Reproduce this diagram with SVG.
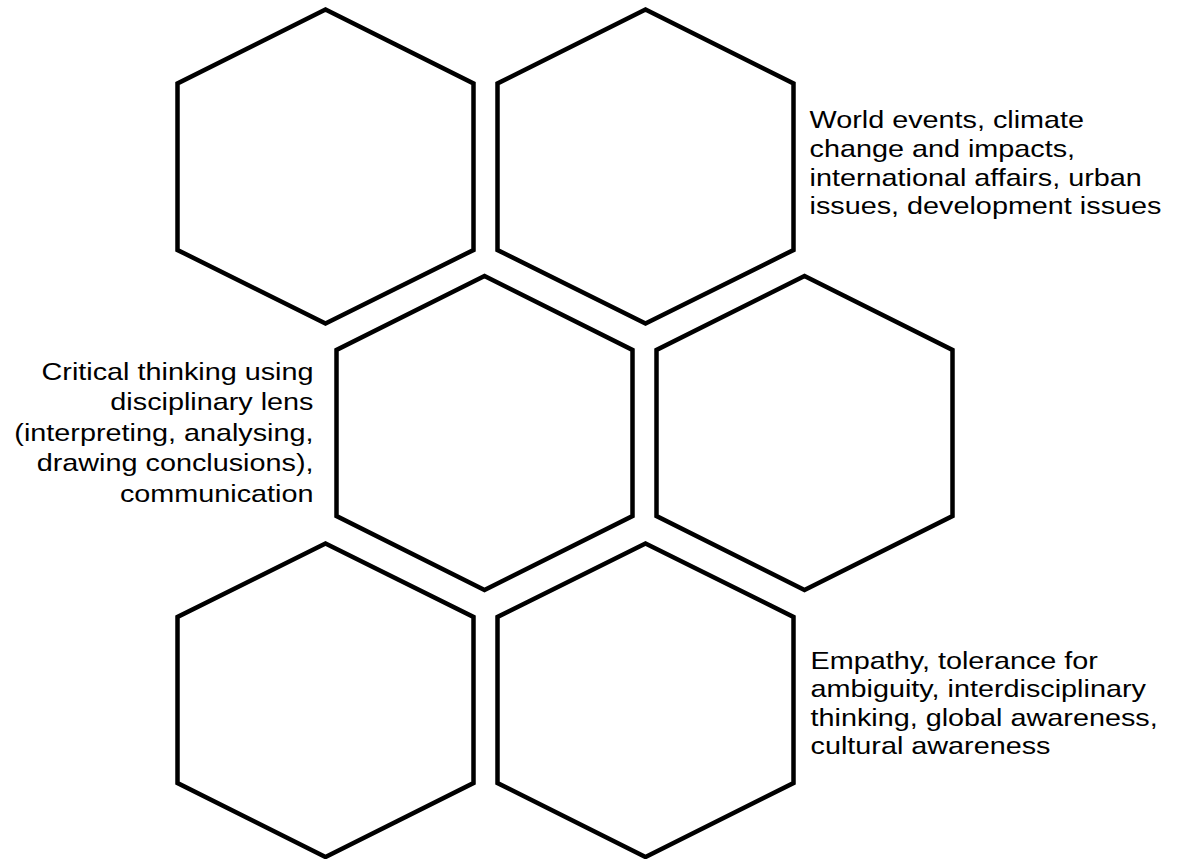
<svg xmlns="http://www.w3.org/2000/svg" width="1181" height="859" viewBox="0 0 1181 859">
<style>
.hex{fill:#ffffff;stroke:#000000;stroke-width:4.5;stroke-linejoin:miter}
.lbl{font-family:"Liberation Sans",Arial,sans-serif;font-size:24.8px;fill:#000000}
.r{text-anchor:end}
</style>
<rect width="1181" height="859" fill="#ffffff"/>
<g id="hex-top-left"><polygon class="hex" points="325.5,9.5 473.5,83.5 473.5,250 325.5,323.5 177.5,250 177.5,83.5"/></g>
<g id="hex-top-right"><polygon class="hex" points="645.5,9.5 793.5,83.5 793.5,250 645.5,323.5 497.5,250 497.5,83.5"/></g>
<g id="hex-mid-left"><polygon class="hex" points="484.5,276 632.5,350 632.5,516 484.5,590 336.5,516 336.5,350"/></g>
<g id="hex-mid-right"><polygon class="hex" points="804.5,276 952.5,350 952.5,516 804.5,590 656.5,516 656.5,350"/></g>
<g id="hex-bottom-left"><polygon class="hex" points="325.5,543.5 473.5,617 473.5,783 325.5,857 177.5,783 177.5,617"/></g>
<g id="hex-bottom-right"><polygon class="hex" points="645.5,543.5 793.5,617 793.5,783 645.5,857 497.5,783 497.5,617"/></g>
<g id="connectors"></g>
<g id="label-top" transform="translate(809.5,0) scale(1.161,1)">
<text class="lbl"><tspan x="0" y="128">World events, climate</tspan><tspan x="0" y="156.8">change and impacts,</tspan><tspan x="0" y="185.6">international affairs, urban</tspan><tspan x="0" y="214.4">issues, development issues</tspan></text>
</g>
<g id="label-mid" transform="translate(313.5,0) scale(1.161,1)">
<text class="lbl r"><tspan x="0" y="379.6">Critical thinking using</tspan><tspan x="0" y="410.2">disciplinary lens</tspan><tspan x="0" y="440.8">(interpreting, analysing,</tspan><tspan x="0" y="471.4">drawing conclusions),</tspan><tspan x="0" y="502">communication</tspan></text>
</g>
<g id="label-bottom" transform="translate(810.5,0) scale(1.161,1)">
<text class="lbl"><tspan x="0" y="668.6">Empathy, tolerance for</tspan><tspan x="0" y="697.2">ambiguity, interdisciplinary</tspan><tspan x="0" y="725.8">thinking, global awareness,</tspan><tspan x="0" y="754.4">cultural awareness</tspan></text>
</g>
</svg>
